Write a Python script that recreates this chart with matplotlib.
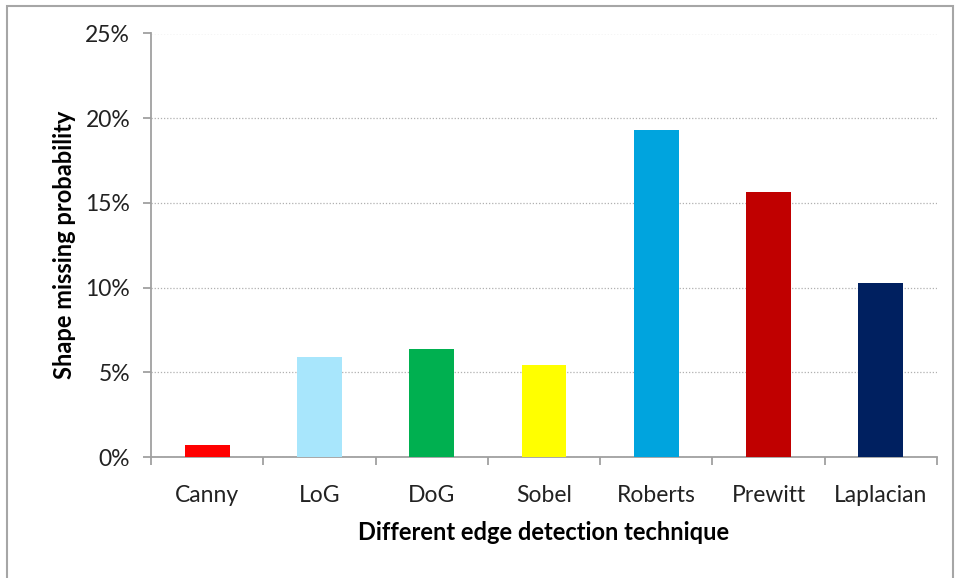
import numpy as np
import matplotlib.pyplot as plt
from matplotlib.ticker import PercentFormatter, FixedLocator
from matplotlib.patches import Rectangle

techniques = ["Canny", "LoG", "DoG", "Sobel", "Roberts", "Prewitt", "Laplacian"]
missing_prob = [0.72, 5.92, 6.40, 5.45, 19.30, 15.62, 10.30]  # percent
bar_colors = ["#FF0000", "#A8E6FC", "#00B050", "#FFFF00", "#00A4DE", "#C00000", "#002060"]

plt.rcParams['font.family'] = ['Lato', 'DejaVu Sans']

fig = plt.figure(figsize=(9.58, 5.78), dpi=100)
ax = fig.add_axes([151/958, 1 - 457/578, (937 - 151)/958, (457 - 33.5)/578])

x = np.arange(len(techniques))
ax.bar(x, missing_prob, width=0.40, color=bar_colors, zorder=3)

ax.set_xlim(-0.5, len(techniques) - 0.5)
ax.set_ylim(0, 25)
ax.set_yticks(np.arange(0, 26, 5))
ax.yaxis.set_major_formatter(PercentFormatter(decimals=0))
ax.set_xticks(x)
ax.set_xticklabels(techniques)
ax.xaxis.set_minor_locator(FixedLocator(np.arange(-0.5, len(techniques), 1)))

ax.grid(axis='y', color='#b0b0b0', linestyle=(0, (1, 1.5)), linewidth=0.9, zorder=0)
for side in ['top', 'right']:
    ax.spines[side].set_visible(False)
for side in ['left', 'bottom']:
    ax.spines[side].set_color('#a0a0a0')
    ax.spines[side].set_linewidth(1.3)

ax.tick_params(axis='y', which='major', length=6, color='#a0a0a0', width=1.3,
               labelsize=16.5, labelcolor='#222222', pad=9)
ax.tick_params(axis='x', which='major', length=0, labelsize=16.5,
               labelcolor='#222222', pad=20)
ax.tick_params(axis='x', which='minor', length=6, color='#a0a0a0', width=1.3)

ax.set_ylabel("Shape missing probability", fontsize=17, fontweight='bold', labelpad=7)
ax.set_xlabel("Different edge detection technique", fontsize=17, fontweight='bold', labelpad=11)

# light frame around the whole chart area
fig.patches.append(Rectangle((7/958, -0.05), (953 - 7)/958, 1.05 - 6/578,
                             transform=fig.transFigure, fill=False,
                             edgecolor='#a6a6a6', linewidth=1.5))

fig.savefig("out.png", dpi=100)
